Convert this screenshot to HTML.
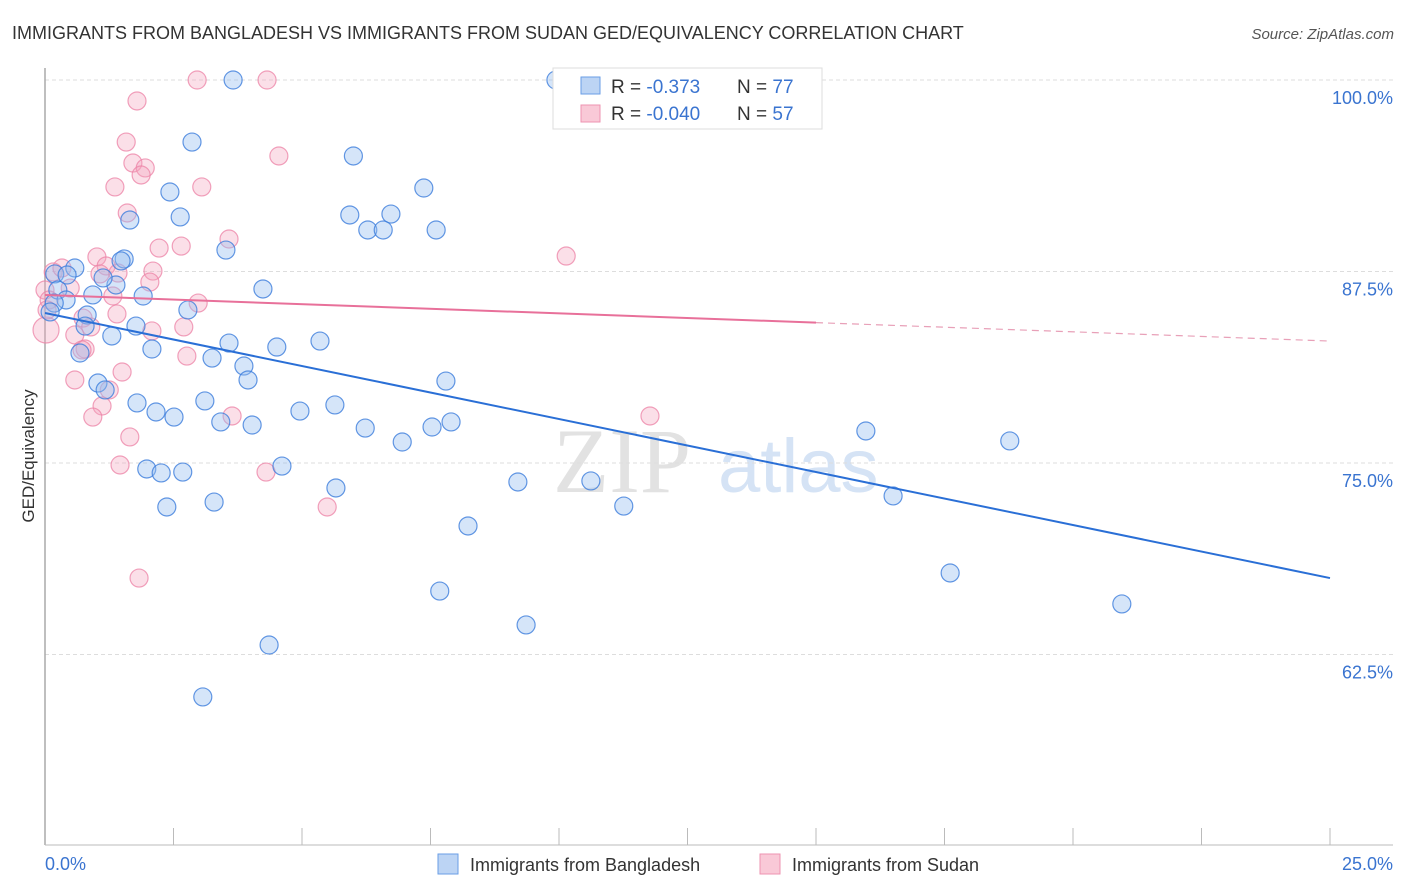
<!DOCTYPE html>
<html><head><meta charset="utf-8"><style>
body{margin:0;background:#fff;font-family:"Liberation Sans",sans-serif;}
#wrap{position:relative;width:1406px;height:892px;overflow:hidden;}
</style></head><body>
<div id="wrap">
<svg id="svg" width="1406" height="892" xmlns="http://www.w3.org/2000/svg">
<text x="12" y="39" font-size="18" fill="#333">IMMIGRANTS FROM BANGLADESH VS IMMIGRANTS FROM SUDAN GED/EQUIVALENCY CORRELATION CHART</text>
<text x="1394" y="39" font-size="15" fill="#555" font-style="italic" text-anchor="end">Source: ZipAtlas.com</text>
<g><text x="553" y="492" font-size="92" font-family="Liberation Serif,serif" fill="#e2e2e2">ZIP</text><text x="718" y="492" font-size="76" fill="#d5e3f5">atlas</text></g>
<g id="grid"></g>
<line x1="45" y1="68" x2="45" y2="845" stroke="#aaa" stroke-width="1.5"/>
<line x1="45" y1="845" x2="1393" y2="845" stroke="#bbb" stroke-width="1"/>
<text transform="translate(34,456) rotate(-90)" font-size="17" fill="#333" text-anchor="middle">GED/Equivalency</text>
<text x="45" y="870" font-size="18" fill="#3a74d0">0.0%</text>
<text x="1393" y="870" font-size="18" fill="#3a74d0" text-anchor="end">25.0%</text>
<g id="pts"></g>
<g id="lines"></g>
<g>
<rect x="553" y="68" width="269" height="61" fill="#fff" stroke="#ddd"/>
<rect x="581" y="77" width="19" height="17" fill="#bcd4f4" stroke="#6a9ee6"/>
<rect x="581" y="105" width="19" height="17" fill="#f9c9d7" stroke="#ee93b0"/>
<text x="611" y="93" font-size="19" fill="#333">R = <tspan fill="#3a74d0">-0.373</tspan><tspan x="737">N = </tspan><tspan fill="#3a74d0">77</tspan></text>
<text x="611" y="120" font-size="19" fill="#333">R = <tspan fill="#3a74d0">-0.040</tspan><tspan x="737">N = </tspan><tspan fill="#3a74d0">57</tspan></text>
</g>
<g>
<rect x="438" y="854" width="20" height="20" fill="#bcd4f4" stroke="#6a9ee6"/>
<text x="470" y="871" font-size="18" fill="#333">Immigrants from Bangladesh</text>
<rect x="760" y="854" width="20" height="20" fill="#f9c9d7" stroke="#ee93b0"/>
<text x="792" y="871" font-size="18" fill="#333">Immigrants from Sudan</text>
</g>
</svg>
</div>
<script>
const yTicks=[100,87.5,75,62.5];
const yTickLabels=["100.0%","87.5%","75.0%","62.5%"];
const xTicks=[2.5,5,7.5,10,12.5,15,17.5,20,22.5,25];
const blueX=[3.66,9.94,2.86,6.0,2.43,7.37,2.63,1.65,5.93,6.73,6.28,6.58,7.61,3.52,1.54,1.48,0.58,4.24,0.19,0.43,0.25,1.38,1.13,0.93,1.91,0.41,2.78,0.18,0.10,0.82,0.78,1.77,1.30,5.35,3.58,2.08,4.51,0.68,3.25,3.87,3.95,7.80,1.03,1.17,3.11,1.79,5.64,4.96,2.16,2.51,3.42,4.03,6.23,7.53,7.90,6.95,15.97,18.77,4.61,1.98,2.26,2.68,5.66,9.20,10.62,3.29,2.37,11.26,16.50,8.23,17.61,7.68,20.95,9.36,4.36,3.07];
const blueY=[100,100,95.95,95.04,92.69,92.95,91.06,90.86,91.19,91.25,90.21,90.21,90.21,88.90,88.32,88.19,87.73,86.36,87.34,87.27,86.29,86.62,87.08,85.97,85.90,85.64,84.99,85.44,84.86,84.66,83.94,83.94,83.29,82.96,82.83,82.44,82.57,82.18,81.85,81.33,80.42,80.35,80.22,79.77,79.05,78.92,78.79,78.39,78.33,78.00,77.68,77.48,77.28,77.35,77.68,76.37,77.09,76.44,74.80,74.61,74.35,74.41,73.37,73.76,73.83,72.45,72.13,72.19,72.85,70.89,67.82,66.64,65.80,64.43,63.12,59.73];
const pinkX=[2.96,4.32,1.79,1.58,4.55,1.36,3.05,1.71,1.95,1.87,1.60,3.58,2.22,2.65,10.14,1.01,1.19,2.10,1.42,1.07,2.04,0.16,0.33,0,0.49,0.08,1.32,2.98,0.74,1.40,0.89,2.08,2.70,0.58,0.78,0.72,2.76,1.50,0.58,1.25,1.11,0.93,3.64,11.77,1.65,1.46,4.30,5.49,1.83,0.02,0.04];
const pinkY=[100,100,98.63,95.95,95.04,93.02,93.02,94.58,94.26,93.80,91.32,89.62,89.03,89.16,88.51,88.45,87.86,87.53,87.40,87.34,86.81,87.47,87.73,86.29,86.42,85.64,85.90,85.44,84.46,84.73,83.88,83.62,83.88,83.36,82.44,82.38,81.98,80.94,80.42,79.77,78.72,78.00,78.07,78.07,76.70,74.87,74.41,72.13,67.49,83.68,84.99];
const blueTrend=[84.79,67.49];
const pinkTrend=[85.97,82.96];
const pinkSolidEnd=15;

const NS="http://www.w3.org/2000/svg";
function sx(v){return 45+v/25*1285;}
function sy(v){return 80+(100-v)/12.5*191.5;}
function mk(t,a,p){const e=document.createElementNS(NS,t);for(const k in a)e.setAttribute(k,a[k]);p.appendChild(e);return e;}
const grid=document.getElementById('grid');
yTicks.forEach((t,i)=>{
 const l=mk('line',{x1:45,x2:1393,y1:sy(t),y2:sy(t),stroke:'#ddd','stroke-dasharray':'4,3'},grid);
 
 
 const tx=mk('text',{x:1393,y:sy(t)+24,'font-size':18,fill:'#3a74d0','text-anchor':'end'},grid);
 tx.textContent=yTickLabels[i];
 
 
});
xTicks.forEach(t=>{
 const l=mk('line',{x1:sx(t),x2:sx(t),y1:828,y2:845,stroke:'#bbb'},grid);
 
 
});
const pts=document.getElementById('pts');
pinkX.forEach((x,i)=>{
 const c=mk('circle',{cx:sx(x),cy:sy(pinkY[i]),r:(i==49?13:9),fill:'rgba(244,164,190,0.35)',stroke:'rgba(236,130,165,0.75)','stroke-width':1.2},pts);
 
 
});
blueX.forEach((x,i)=>{
 const c=mk('circle',{cx:sx(x),cy:sy(blueY[i]),r:9,fill:'rgba(150,190,240,0.4)',stroke:'rgba(60,125,220,0.8)','stroke-width':1.2},pts);
 
 
});
const lines=document.getElementById('lines');
const bl=mk('line',{x1:sx(0),y1:sy(blueTrend[0]),x2:sx(25),y2:sy(blueTrend[1]),stroke:'#2a6fd6','stroke-width':2},lines);


const pm=pinkTrend[0]+(pinkTrend[1]-pinkTrend[0])*pinkSolidEnd/25;
const pl=mk('line',{x1:sx(0),y1:sy(pinkTrend[0]),x2:sx(pinkSolidEnd),y2:sy(pm),stroke:'#e8709a','stroke-width':2},lines);


const pd=mk('line',{x1:sx(pinkSolidEnd),y1:sy(pm),x2:sx(25),y2:sy(pinkTrend[1]),stroke:'#e8a0b8','stroke-width':1.2,'stroke-dasharray':'7,5'},lines);


</script>
</body></html>
